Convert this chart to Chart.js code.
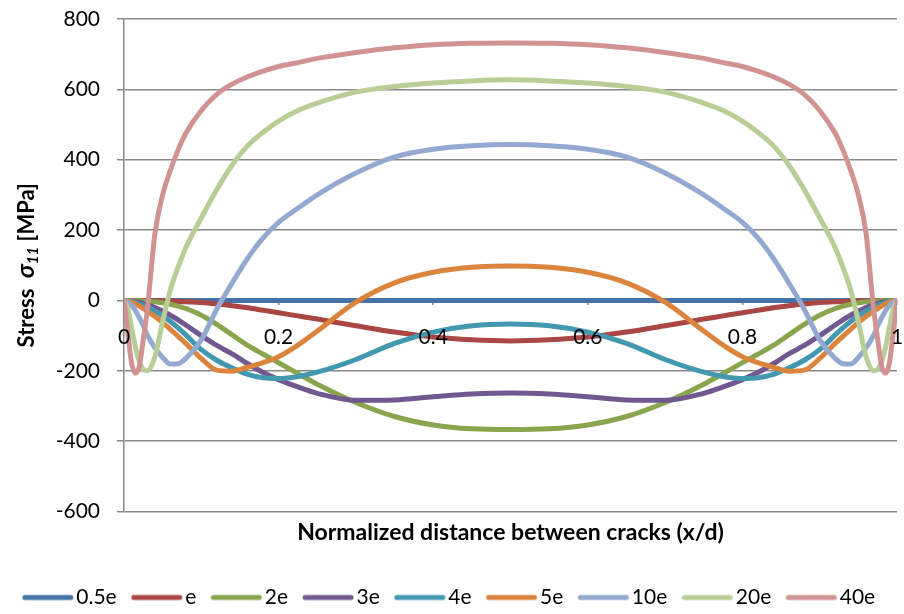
<!DOCTYPE html>
<html lang="en">
<head>
<meta charset="UTF-8">
<title>Stress between cracks</title>
<script src="https://cdn.jsdelivr.net/npm/chart.js"></script>
<style>
  html, body { margin: 0; padding: 0; background: #fff; }
</style>
</head>
<body>
<canvas id="myChart" width="904" height="614"></canvas>
<script>
// normalized position x/d
const xPos = [0, 0.005, 0.01, 0.015, 0.02, 0.025, 0.03, 0.04, 0.05, 0.06, 0.07, 0.08, 0.1, 0.12, 0.14, 0.16, 0.18, 0.2, 0.225, 0.25, 0.3, 0.35, 0.4, 0.45, 0.5,
              0.55, 0.6, 0.65, 0.7, 0.75, 0.775, 0.8, 0.82, 0.84, 0.86, 0.88, 0.9, 0.92, 0.93, 0.94, 0.95, 0.96, 0.97, 0.975, 0.98, 0.985, 0.99, 0.995, 1];

// stress sigma_11 [MPa]
const s05e = [0, 0, 0, 0, 0, 0, 0, 0, 0, 0, 0, 0, 0, 0, 0, 0, 0, 0, 0, 0, 0, 0, 0, 0, 0,
              0, 0, 0, 0, 0, 0, 0, 0, 0, 0, 0, 0, 0, 0, 0, 0, 0, 0, 0, 0, 0, 0, 0, 0];
const s1e = [0, 0, 0, 0, 0, 0, 0, -1, -1, -2, -3, -4, -6, -10, -15, -21, -28, -35, -44, -53, -72, -90, -104, -112, -115,
             -112, -104, -90, -72, -53, -44, -35, -28, -21, -15, -10, -6, -4, -3, -2, -1, -1, 0, 0, 0, 0, 0, 0, 0];
const s2e = [0, 0, 0, -1, -1, -2, -2, -4, -7, -11, -16, -23, -42, -68, -98, -128, -153, -177, -208, -238, -290, -330, -354, -365, -367,
             -365, -354, -330, -290, -238, -208, -177, -153, -128, -98, -68, -42, -23, -16, -11, -7, -4, -2, -2, -1, -1, 0, 0, 0];
const s3e = [0, -1, -2, -4, -6, -9, -12, -20, -30, -42, -55, -70, -100, -128, -152, -180, -205, -225, -246, -264, -284, -283, -274, -266, -263,
             -266, -274, -283, -284, -264, -246, -225, -205, -180, -152, -128, -100, -70, -55, -42, -30, -20, -12, -9, -6, -4, -2, -1, 0];
const s4e = [0, -1, -3, -6, -10, -14, -19, -30, -44, -60, -78, -98, -140, -170, -192, -210, -220, -222, -216, -204, -168, -122, -90, -72, -67,
             -72, -90, -122, -168, -204, -216, -222, -220, -210, -192, -170, -140, -98, -78, -60, -44, -30, -19, -14, -10, -6, -3, -1, 0];
const s5e = [0, -2, -5, -10, -16, -23, -30, -46, -63, -82, -102, -122, -165, -198, -201, -190, -177, -160, -127, -87, -5, 50, 80, 94, 98,
             94, 80, 50, -5, -87, -127, -160, -177, -190, -201, -198, -165, -122, -102, -82, -63, -46, -30, -23, -16, -10, -5, -2, 0];
const s10e = [0, -5, -15, -30, -50, -72, -98, -135, -162, -181, -180, -165, -112, -25, 50, 120, 178, 222, 262, 300, 362, 408, 430, 440, 443,
              440, 430, 408, 362, 300, 262, 222, 178, 120, 50, -25, -112, -165, -180, -181, -162, -135, -98, -72, -50, -30, -15, -5, 0];
const s20e = [0, -25, -80, -135, -175, -196, -200, -160, -60, 30, 95, 150, 235, 315, 385, 440, 478, 510, 540, 561, 592, 608, 618, 624, 627,
              624, 618, 608, 592, 561, 540, 510, 478, 440, 385, 315, 235, 150, 95, 30, -60, -160, -200, -196, -175, -135, -80, -25, 0];
const s40e = [0, -95, -180, -207, -185, -110, -30, 190, 300, 370, 428, 475, 540, 586, 615, 636, 652, 665, 676, 688, 705, 718, 727, 731, 732,
              731, 727, 718, 705, 688, 676, 665, 652, 636, 615, 586, 540, 475, 428, 370, 300, 190, -30, -110, -185, -207, -180, -95, 0];

const seriesNames = ['0.5e', 'e', '2e', '3e', '4e', '5e', '10e', '20e', '40e'];
const seriesValues = [s05e, s1e, s2e, s3e, s4e, s5e, s10e, s20e, s40e];
const seriesColors = ['#4572A7', '#AA4643', '#89A54E', '#71588F', '#4198AF', '#DB843D', '#93A9CF', '#B9CD96', '#D19392'];

const yTicks = [-600, 800, 200];   // min, max, step
const xTicks = [0, 1, 0.2];

// little line swatch for the legend (line sits close to the text like in Excel)
function legendSwatch(color) {
    const c = document.createElement('canvas');
    c.width = 64;
    c.height = 10;
    const g = c.getContext('2d');
    g.strokeStyle = color;
    g.lineWidth = 5;
    g.lineCap = 'round';
    g.beginPath();
    g.moveTo(13, 5);
    g.lineTo(59, 5);
    g.stroke();
    return c;
}

// y axis title with the subscript
const yTitlePlugin = {
    id: 'yTitle',
    afterDraw(chart) {
        const ctx = chart.ctx;
        const parts = [
            { t: 'Stress  ', f: 'bold 22px Lato', dy: 0 },
            { t: 'σ', f: 'italic bold 24px Lato', dy: 0 },
            { t: '11', f: 'italic bold 15px Lato', dy: 4 },
            { t: ' [MPa]', f: 'bold 22px Lato', dy: 0 }
        ];
        let total = 0;
        parts.forEach(p => { ctx.font = p.f; p.w = ctx.measureText(p.t).width; total += p.w; });
        const cy = (chart.chartArea.top + chart.chartArea.bottom) / 2;
        ctx.save();
        ctx.translate(34, cy);
        ctx.rotate(-Math.PI / 2);
        ctx.fillStyle = '#000';
        ctx.textBaseline = 'alphabetic';
        ctx.textAlign = 'left';
        let x = -total / 2;
        parts.forEach(p => {
            ctx.font = p.f;
            ctx.fillText(p.t, x, p.dy);
            x += p.w;
        });
        ctx.restore();
    }
};

const datasets = seriesNames.map((name, i) => ({
    label: name,
    data: xPos.map((x, k) => ({ x: x, y: seriesValues[i][k] })),
    borderColor: seriesColors[i],
    backgroundColor: seriesColors[i],
    borderWidth: 5,
    borderCapStyle: 'round',
    pointRadius: 0,
    pointStyle: legendSwatch(seriesColors[i]),
    cubicInterpolationMode: 'monotone',
    order: seriesNames.length - 1 - i
}));

new Chart(document.getElementById('myChart'), {
    type: 'line',
    data: { datasets: datasets },
    plugins: [yTitlePlugin],
    options: {
        responsive: false,
        animation: false,
        events: [],
        layout: { padding: { left: 0, right: 7, top: 19, bottom: -4 } },
        scales: {
            x: {
                type: 'linear',
                position: { y: 0 },
                min: xTicks[0],
                max: xTicks[1],
                ticks: {
                    stepSize: xTicks[2], color: '#000', font: { family: 'Lato', size: 21 }, padding: 19, z: 1, maxRotation: 0,
                    callback: (v) => String(Number(v.toFixed(1)))
                },
                grid: { drawOnChartArea: false, drawTicks: true, tickLength: 5, color: '#888', lineWidth: 1.5 },
                border: { display: false },
                afterFit: (s) => { s.paddingLeft = 0; s.paddingRight = 0; }
            },
            y: {
                min: yTicks[0],
                max: yTicks[1],
                ticks: { stepSize: yTicks[2], color: '#000', font: { family: 'Lato', size: 21 }, padding: 17 },
                grid: { color: '#888', lineWidth: 1.5, tickLength: 7 },
                border: { color: '#888', width: 1.5 },
                afterFit: (s) => { s.width = 124; s.paddingTop = 0; s.paddingBottom = 0; }
            }
        },
        plugins: {
            tooltip: { enabled: false },
            title: {
                display: true,
                text: 'Normalized distance between cracks (x/d)',
                position: 'bottom',
                fullSize: false,
                weight: 500,
                color: '#000',
                font: { family: 'Lato', size: 23, weight: 'bold' },
                padding: { top: 7.5, bottom: 26.4 }
            },
            legend: {
                position: 'bottom',
                reverse: true,
                labels: {
                    usePointStyle: true,
                    pointStyleWidth: 44,
                    padding: 14,
                    color: '#000',
                    font: { family: 'Lato', size: 21 }
                }
            }
        }
    }
});
</script>
</body>
</html>
